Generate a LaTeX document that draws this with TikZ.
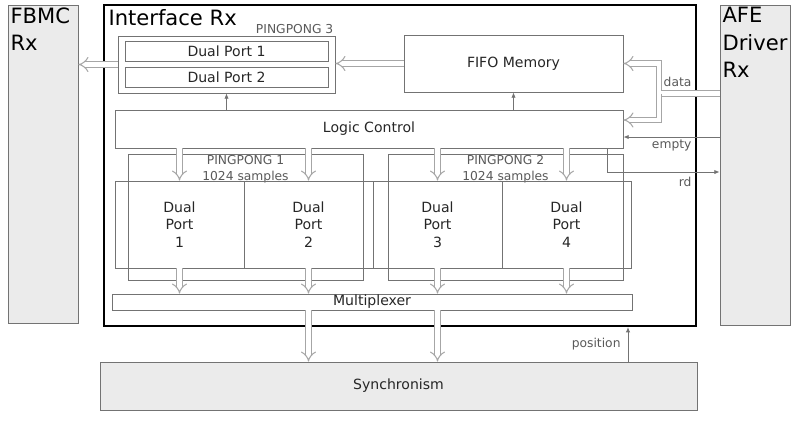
\documentclass[tikz,border=0pt]{standalone}
\usepackage{fontspec}
\setmainfont{DejaVu Sans}
\usetikzlibrary{arrows.meta}

\begin{document}
\begin{tikzpicture}[
        x=0.02cm, y=-0.02cm,
        wh/.style 2 args={minimum width=#1*0.02cm, minimum height=#2*0.02cm},
        box/.style={draw=black!55, line width=0.5pt, inner sep=0pt, align=center,
            font=\fontsize{8}{10}\selectfont, text=black!85},
        block/.style={box, fill=gray!16},
        big/.style={font=\fontsize{12}{15.5}\selectfont, text=black, align=left, inner sep=1.5pt},
        tag/.style={font=\fontsize{7}{9}\selectfont, text=black!65, inner sep=1pt},
        bus/.style={draw=black!35, line width=0.6pt, double=white, double distance=2.4pt, -{Implies}},
        sig/.style={draw=black!55, line width=0.5pt, -{Latex[length=3pt, width=2.5pt]}}
    ]
    \useasboundingbox (0,0) rectangle (801,420);

    % outer blocks
    \node[block, wh={70}{318}, label={[big, anchor=north west]north west:{FBMC\\Rx}}] (fbmc) at (43,164) {};
    \node[block, wh={70}{320}, label={[big, anchor=north west]north west:{AFE\\Driver\\Rx}}] (afe) at (755,165) {};
    \node[block, wh={597}{48}] (sync) at (398.5,386) {Synchronism};
    \node[box, draw=black, line width=1.2pt, wh={592}{321},
        label={[big, anchor=north west, inner sep=3pt]north west:Interface Rx}] (iface) at (400,165.5) {};

    % interface internals
    \node[box, wh={217}{57}, label={[tag, anchor=south east]north east:PINGPONG 3}] (pp3) at (226.5,64.5) {};
    \node[box, wh={203}{20}] (dpa) at (226.5,51.5) {Dual Port 1};
    \node[box, wh={203}{20}] (dpb) at (226.5,77.5) {Dual Port 2};
    \node[box, wh={219}{57}] (fifo) at (513.5,63.5) {FIFO Memory};
    \node[box, wh={508}{38}] (logic) at (369,129) {Logic Control};

    \node[box, wh={235}{126}, label={[tag, anchor=north, align=center]north:PINGPONG 1\\1024 samples}] (pp1) at (245.5,217) {};
    \node[box, wh={235}{126}, label={[tag, anchor=north, align=center]north:PINGPONG 2\\1024 samples}] (pp2) at (505.5,217) {};
    \foreach \i/\x in {1/179.5, 2/308.5, 3/437.5, 4/566.5}
        \node[box, wh={129}{87}] (dp\i) at (\x,224.5) {Dual\\Port\\\i};
    \node[box, wh={520}{16}] (mux) at (372,302) {Multiplexer};

    % buses
    \draw[bus] (fifo.west) -- (fifo.west -| pp3.east);
    \draw[bus] (pp3.west) -- (pp3.west -| fbmc.east);
    \foreach \i in {1,...,4} {
        \draw[bus] (dp\i.north |- logic.south) -- (dp\i.north);
        \draw[bus] (dp\i.south) -- (dp\i.south |- mux.north);
    }
    \draw[bus] (dp2.south |- mux.south) -- (dp2.south |- sync.north);
    \draw[bus] (dp3.south |- mux.south) -- (dp3.south |- sync.north);

    % data from the AFE driver
    \coordinate (split) at (659,93.5);
    \draw[bus] (afe.west |- split) -- (split) |- (fifo.east);
    \draw[bus] (split) |- ([yshift=9*0.02cm]logic.east);
    \node[tag, anchor=south east] at ([xshift=-2pt, yshift=2.5pt]split -| iface.east) {data};

    % control signals
    \draw[sig] (pp3.south |- logic.north) -- (pp3.south);
    \draw[sig] (fifo.south |- logic.north) -- (fifo.south);
    \draw[sig] (afe.west |- 0,137) -- (logic.east |- 0,137);
    \node[tag, anchor=north east] at ([xshift=-2pt, yshift=-0.5pt]iface.east |- 0,137) {empty};
    \draw[sig] (logic.south -| 607,0) |- (afe.west |- 0,172);
    \node[tag, anchor=north east] at ([xshift=-2pt, yshift=-2pt]iface.east |- 0,172) {rd};
    \draw[sig] (sync.north -| 628,0) -- (iface.south -| 628,0)
        node[tag, midway, anchor=east, xshift=-3pt] {position};
\end{tikzpicture}
\end{document}
